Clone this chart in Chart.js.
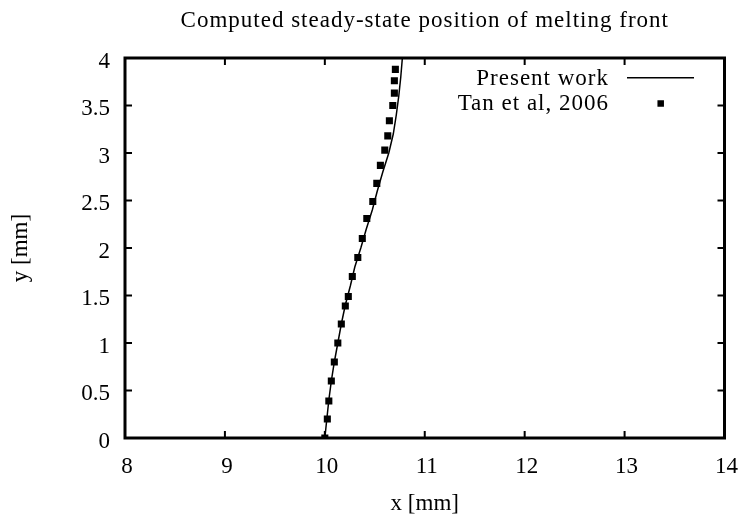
<!DOCTYPE html>
<html><head><meta charset="utf-8">
<script src="https://cdn.jsdelivr.net/npm/chart.js@4/dist/chart.umd.min.js"></script>
<style>html,body{margin:0;padding:0;background:#fff}#wrap{width:743px;height:520px}</style>
</head><body><div id="wrap"><canvas id="c" width="743" height="520"></canvas></div>
<script>
const titleText = 'Computed steady-state position of melting front';
const xAxisLabel = 'x [mm]';
const yAxisLabel = 'y [mm]';
const seriesNames = ['Present work', 'Tan et al, 2006'];
const xTicks = [8, 9, 10, 11, 12, 13, 14];
const yTicks = [0, 0.5, 1, 1.5, 2, 2.5, 3, 3.5, 4];

// Present work (solid line)
const workY = [0, 0.2, 0.4, 0.6, 0.8, 1.0, 1.2, 1.4, 1.6, 1.8, 2.0, 2.2, 2.4, 2.6, 2.8, 3.0, 3.2, 3.4, 3.6, 3.8, 4.0];
const workX = [10.0, 10.02, 10.04, 10.065, 10.095, 10.13, 10.165, 10.205, 10.255, 10.30, 10.36, 10.415, 10.475, 10.525, 10.58, 10.64, 10.685, 10.715, 10.74, 10.76, 10.776];

// Tan et al, 2006 (squares)
const tanY = [0, 0.2, 0.39, 0.6, 0.8, 1.0, 1.2, 1.39, 1.49, 1.7, 1.9, 2.1, 2.31, 2.49, 2.68, 2.87, 3.03, 3.18, 3.34, 3.5, 3.63, 3.76, 3.88];
const tanX = [10.0, 10.025, 10.04, 10.065, 10.095, 10.13, 10.165, 10.205, 10.235, 10.275, 10.33, 10.375, 10.42, 10.48, 10.52, 10.556, 10.60, 10.63, 10.646, 10.68, 10.696, 10.696, 10.706];

const FONT = "'Liberation Serif', 'DejaVu Serif', serif";

const decor = {
  id: 'decor',
  afterDraw(chart) {
    const {ctx, chartArea: a, scales: {x, y}} = chart;
    ctx.save();
    ctx.strokeStyle = '#000';
    ctx.lineWidth = 3;
    ctx.strokeRect(a.left, a.top, a.right - a.left, a.bottom - a.top);
    ctx.lineWidth = 2;
    ctx.beginPath();
    const L = 7;
    xTicks.forEach(v => {
      const px = x.getPixelForValue(v);
      ctx.moveTo(px, a.bottom); ctx.lineTo(px, a.bottom - L);
      ctx.moveTo(px, a.top); ctx.lineTo(px, a.top + L);
    });
    yTicks.forEach(v => {
      const py = y.getPixelForValue(v);
      ctx.moveTo(a.left, py); ctx.lineTo(a.left + L, py);
      ctx.moveTo(a.right, py); ctx.lineTo(a.right - L, py);
    });
    ctx.stroke();
    ctx.fillStyle = '#000';
    ctx.letterSpacing = '1px';
    ctx.font = '23px ' + FONT;
    ctx.textAlign = 'center';
    ctx.textBaseline = 'alphabetic';
    ctx.fillText(titleText, (a.left + a.right) / 2, 27);
    ctx.textAlign = 'right';
    const ds = chart.data.datasets;
    ctx.fillText(ds[0].label, 609, 85);
    ctx.fillText(ds[1].label, 609, 110);
    ctx.letterSpacing = '0px';
    ctx.lineWidth = 1.5;
    ctx.beginPath();
    ctx.moveTo(627, 77.7); ctx.lineTo(694, 77.7);
    ctx.stroke();
    const s = 6.5;
    ctx.fillRect(660.7 - s / 2, 103.5 - s / 2, s, s);
    ctx.restore();
  }
};

new Chart(document.getElementById('c'), {
  type: 'scatter',
  data: {
    datasets: [
      {
        label: seriesNames[0],
        type: 'line',
        data: workX.map((v, i) => ({x: v, y: workY[i]})),
        borderColor: '#000',
        borderWidth: 1.5,
        pointRadius: 0,
        fill: false,
        tension: 0
      },
      {
        label: seriesNames[1],
        data: tanX.map((v, i) => ({x: v, y: tanY[i]})),
        showLine: false,
        pointStyle: 'rect',
        pointRadius: 5,
        borderWidth: 0,
        backgroundColor: '#000',
        borderColor: '#000'
      }
    ]
  },
  options: {
    responsive: false,
    devicePixelRatio: 1,
    animation: false,
    layout: {padding: {top: 58, right: 18.5, bottom: 0, left: 0}},
    plugins: {legend: {display: false}, tooltip: {enabled: false}, title: {display: false}},
    scales: {
      x: {
        type: 'linear', min: 8, max: 14,
        afterBuildTicks: s => { s.ticks = xTicks.map(v => ({value: v})); },
        afterFit: s => { s.height = 82; s.paddingLeft = 0; s.paddingRight = 0; },
        grid: {display: false, drawTicks: false},
        border: {display: false},
        ticks: {color: '#000', font: {family: FONT, size: 23}, padding: 15, labelOffset: 2, maxRotation: 0, autoSkip: false},
        title: {display: true, text: xAxisLabel, color: '#000', font: {family: FONT, size: 23}, padding: {top: 0, bottom: 2}}
      },
      y: {
        type: 'linear', min: 0, max: 4,
        afterBuildTicks: s => { s.ticks = yTicks.map(v => ({value: v})); },
        afterFit: s => { s.width = 125; s.paddingTop = 0; s.paddingBottom = 0; },
        grid: {display: false, drawTicks: false},
        border: {display: false},
        ticks: {color: '#000', font: {family: FONT, size: 23}, padding: 15, labelOffset: 3.5, autoSkip: false, callback: v => String(v)},
        title: {display: true, text: yAxisLabel, color: '#000', font: {family: FONT, size: 23}, padding: {top: 7, bottom: 0}}
      }
    }
  },
  plugins: [decor]
});
</script>
</body></html>
